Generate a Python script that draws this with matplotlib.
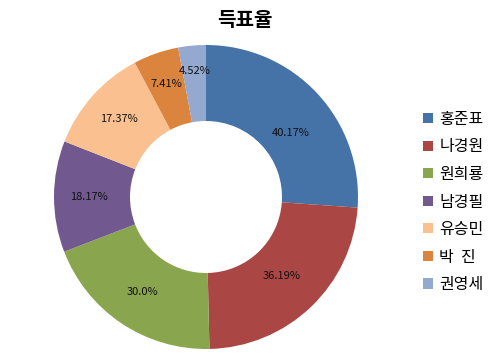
import matplotlib
matplotlib.use("Agg")
import matplotlib.pyplot as plt
import numpy as np

plt.rcParams['font.family'] = ['Noto Sans CJK KR', 'DejaVu Sans']

# 후보별 득표율
names = ['홍준표', '나경원', '원희룡', '남경필', '유승민', '박  진', '권영세']
votes = [40.17, 36.19, 30.0, 18.17, 17.37, 7.41, 4.52]
colors = ['#4572A7', '#AA4643', '#89A54E', '#71588F', '#FAC08F', '#DB843D', '#93A9CF']

# 라벨 위치 (반지름 비율, 각도 보정)
label_r = [0.70, 0.72, 0.75, 0.77, 0.77, 0.79, 0.83]
label_shift = [-6, 0, 0, 0, 0, 0, 0]

fig = plt.figure(figsize=(4.92, 3.55), dpi=100)
W, H = 492, 355
cx, cy, r = 206, 197, 152
ax = fig.add_axes([(cx - r) / W, (H - cy - r) / H, 2 * r / W, 2 * r / H])

wedges, texts = ax.pie(votes, colors=colors, startangle=90, counterclock=False,
                       radius=1.0, wedgeprops=dict(width=0.5, linewidth=0))
for w, v, lr, sh in zip(wedges, votes, label_r, label_shift):
    ang = np.deg2rad((w.theta1 + w.theta2) / 2 + sh)
    ax.text(lr * np.cos(ang), lr * np.sin(ang), f"{v}%",
            ha='center', va='center', fontsize=8, color='#111111')
ax.set_xlim(-1, 1)
ax.set_ylim(-1, 1)
ax.set_aspect('equal')
ax.axis('off')

fig.text(245 / W, 1 - 20 / H, '득표율', ha='center', va='center',
         fontsize=14.5, fontweight='bold')

fig.legend(wedges, names, loc='center left', bbox_to_anchor=(409 / W, 1 - 202 / H),
           frameon=False, fontsize=11.5, handlelength=0.6, handleheight=0.6,
           handletextpad=0.4, labelspacing=0.66)

fig.savefig('out.png', dpi=100)
